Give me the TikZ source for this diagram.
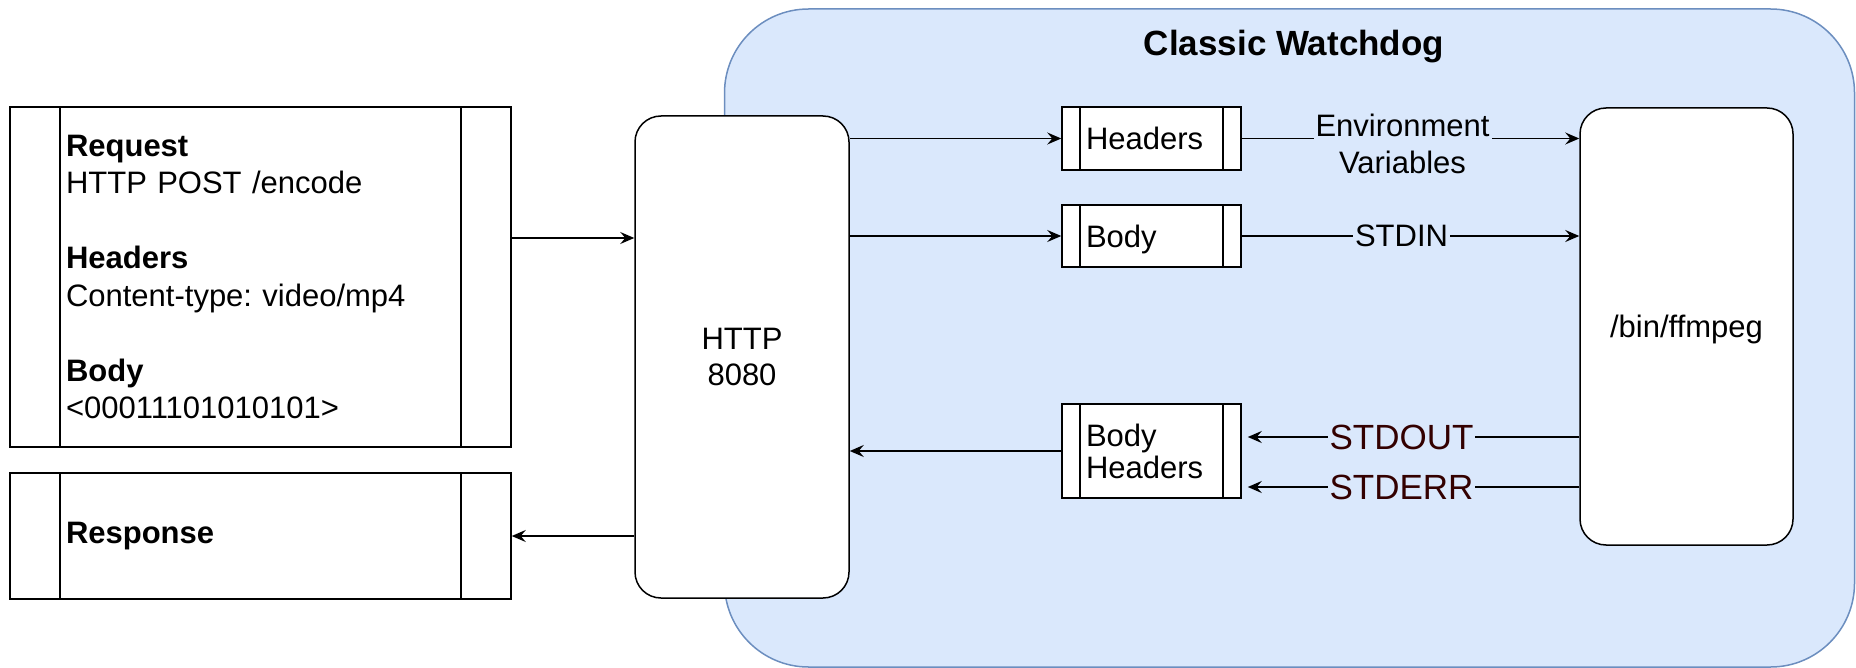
\documentclass[tikz,border=0pt]{standalone}
\usepackage{fontspec}
\setmainfont{Liberation Sans}
\usepackage{xcolor}
\usepackage{tikz}
\usetikzlibrary{arrows.meta}

\definecolor{wdfill}{HTML}{DAE8FC}
\definecolor{wdline}{HTML}{6C8EBF}
\definecolor{stdred}{HTML}{330000}

\begin{document}
\frenchspacing
\begin{tikzpicture}[
    x=0.5pt, y=-0.5pt,
    font=\fontsize{15.5}{18.75}\selectfont,
    container/.style={
        draw=wdline, fill=wdfill, line width=0.75pt, rounded corners=42pt,
        minimum width=565pt, minimum height=329pt,
    },
    rbox/.style={
        draw=black, fill=white, line width=0.75pt, rounded corners=13pt,
        align=center,
    },
    proc/.style={
        draw=black, fill=white, line width=0.75pt, align=left, inner ysep=0pt,
        path picture={
            \draw ([xshift=#1]path picture bounding box.north west) -- ([xshift=#1]path picture bounding box.south west);
            \draw ([xshift=-#1]path picture bounding box.north east) -- ([xshift=-#1]path picture bounding box.south east);
        },
    },
    bigproc/.style={proc=25pt, inner xsep=28pt, text width=194.5pt},
    smallproc/.style={proc=9pt, inner xsep=12pt, text width=65.5pt},
    arrow/.style={-{Stealth[length=7pt, width=6pt, inset=2.5pt]}, draw=black, line width=0.75pt},
    lbl/.style={fill=wdfill, inner sep=1pt, align=center, font=\fontsize{15.5}{18.5}\selectfont},
    stdlbl/.style={lbl, text=stdred, font=\fontsize{17.5}{20}\selectfont},
]
\useasboundingbox (0,0) rectangle (1856,668);

\node[container] (wd) at (1289.5,338) {};
\node[font=\bfseries\fontsize{17.5}{21}\selectfont, anchor=base] (title) at (1294,56) {Classic Watchdog};

\node[bigproc, minimum height=170pt] (req) at (260.5,277)
    {\textbf{Request}\\HTTP POST /encode\\[18.75pt]\textbf{Headers}\\Content-type: video/mp4\\[18.75pt]\textbf{Body}\\<00011101010101>};
\node[bigproc, minimum height=63pt] (resp) at (260.5,536) {\textbf{Response}};

\node[rbox, minimum width=107pt, minimum height=241pt, font=\fontsize{15.5}{18}\selectfont] (http) at (742,357) {HTTP\\8080};

\node[smallproc, minimum height=31.5pt, text depth=0pt] (hdr) at (1151.5,138.5) {Headers};
\node[smallproc, minimum height=31pt, text depth=0pt] (body) at (1151.5,236) {Body};
\node[smallproc, minimum height=47pt, font=\fontsize{15.5}{16}\selectfont] (bh) at (1151.5,451) {Body\\Headers};

\node[rbox, minimum width=106.5pt, minimum height=218.5pt, text depth=0pt] (ff) at (1686.5,326.5) {/bin/ffmpeg};

\draw[arrow] (req.east |- 0,238) -- (http.west |- 0,238);
\draw[arrow] (http.west |- resp) -- (resp);
\draw[arrow] (http.east |- hdr) -- (hdr);
\draw[arrow] (http.east |- body) -- (body);
\draw[arrow] (bh) -- (http.east |- bh);
\draw[arrow] (hdr) -- node[lbl, yshift=-2.5pt, xshift=-4pt] {Environment\\Variables} (ff.west |- hdr);
\draw[arrow] (body) -- node[lbl, xshift=-4.5pt] {STDIN} (ff.west |- body);
\draw[arrow, shorten >=3pt] (ff.west |- 0,437) -- node[stdlbl, xshift=-4.5pt] {STDOUT} (bh.east |- 0,437);
\draw[arrow, shorten >=3pt] (ff.west |- 0,487) -- node[stdlbl, xshift=-4.5pt] {STDERR} (bh.east |- 0,487);

\end{tikzpicture}
\end{document}
